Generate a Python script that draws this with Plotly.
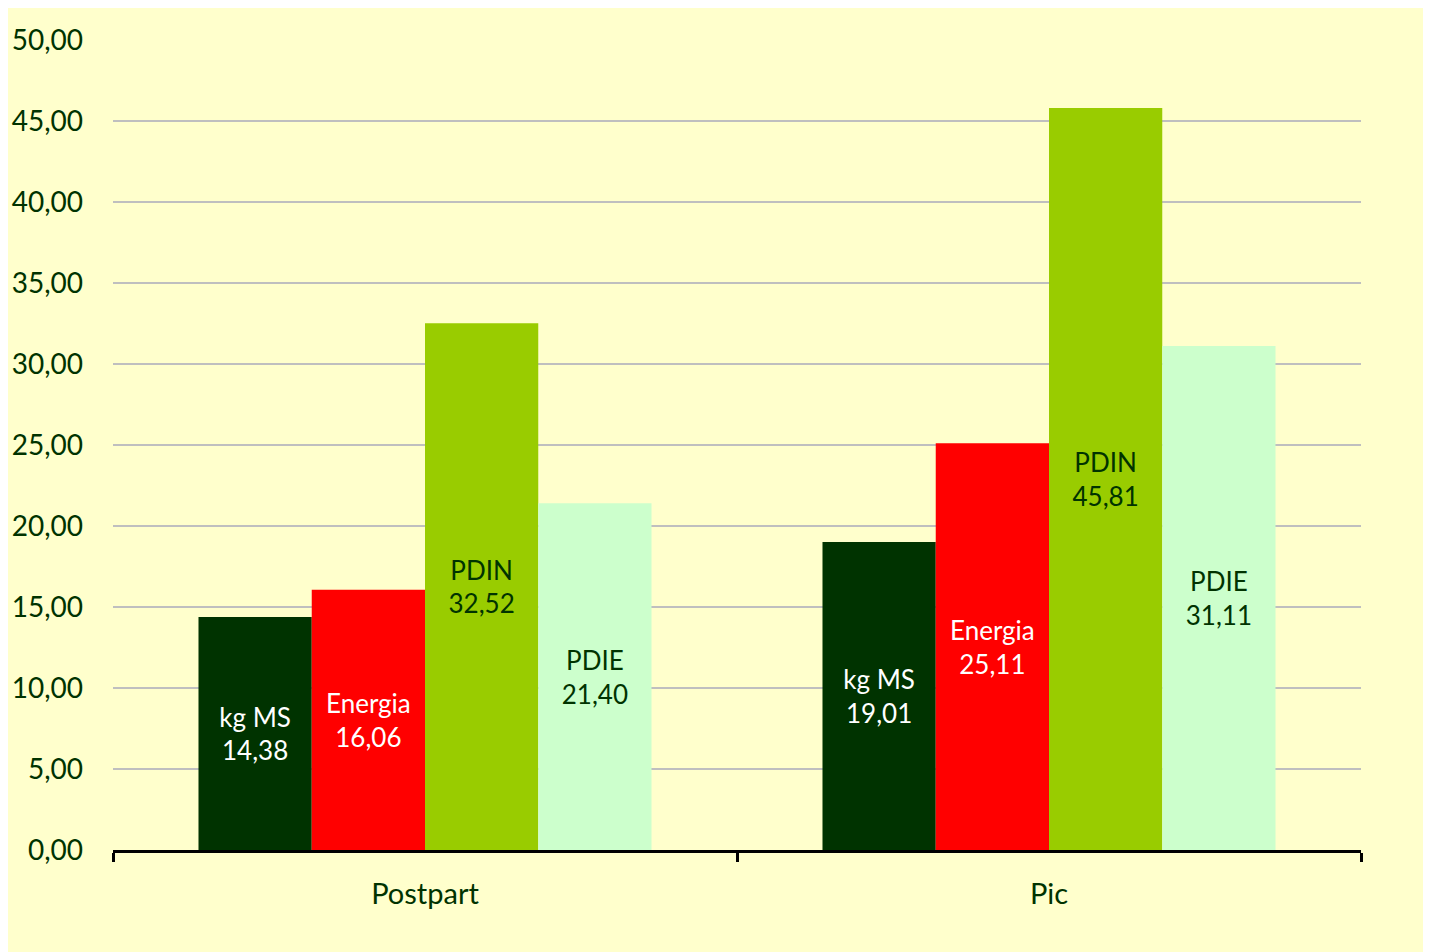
import plotly.graph_objects as go

categories = ["Postpart", "Pic"]
series_names = ["kg MS", "Energia", "PDIN", "PDIE"]
kg_ms = [14.38, 19.01]
energia = [16.06, 25.11]
pdin = [32.52, 45.81]
pdie = [21.40, 31.11]
y_ticks = [0, 5, 10, 15, 20, 25, 30, 35, 40, 45, 50]

series_values = [kg_ms, energia, pdin, pdie]
bar_colors = ["#003300", "#FF0000", "#99CC00", "#CCFFCC"]
text_colors = ["#FFFFFF", "#FFFFFF", "#003300", "#003300"]

def fmt(v):
    return f"{v:.2f}".replace(".", ",")

fig = go.Figure()
for name, vals, col, tcol in zip(series_names, series_values, bar_colors, text_colors):
    fig.add_trace(go.Bar(
        x=categories, y=vals, name=name,
        marker=dict(color=col, line=dict(width=0)),
        text=[f"{name}<br>{fmt(v)}" for v in vals],
        textposition="inside", insidetextanchor="middle", textangle=0,
        textfont=dict(family="Lato", size=26, color=tcol),
        hoverinfo="skip",
    ))

fig.update_layout(
    width=1423, height=944,
    margin=dict(l=105, r=70, t=32, b=102),
    paper_bgcolor="#FFFFCC", plot_bgcolor="#FFFFCC",
    barmode="group", bargap=0.274, bargroupgap=0,
    showlegend=False,
    separators=", ",
    font=dict(family="Lato", color="#003300"),
    uniformtext=dict(minsize=26, mode="show"),
)
fig.update_yaxes(
    range=[0, 50], tickvals=y_ticks, tickformat=".2f",
    showgrid=True, gridcolor="#BFBFBF", gridwidth=2,
    zeroline=False, showline=False, ticks="",
    tickfont=dict(family="Lato", size=28, color="#003300"),
    ticklabelstandoff=29, automargin=False,
)
fig.update_xaxes(
    showline=True, linecolor="#000000", linewidth=3,
    ticks="outside", tickson="boundaries", ticklen=9, tickwidth=3, tickcolor="#000000",
    tickfont=dict(family="Lato", size=29, color="#003300"),
    ticklabelstandoff=16, automargin=False,
    showgrid=False,
)
fig.write_html("out.html")
